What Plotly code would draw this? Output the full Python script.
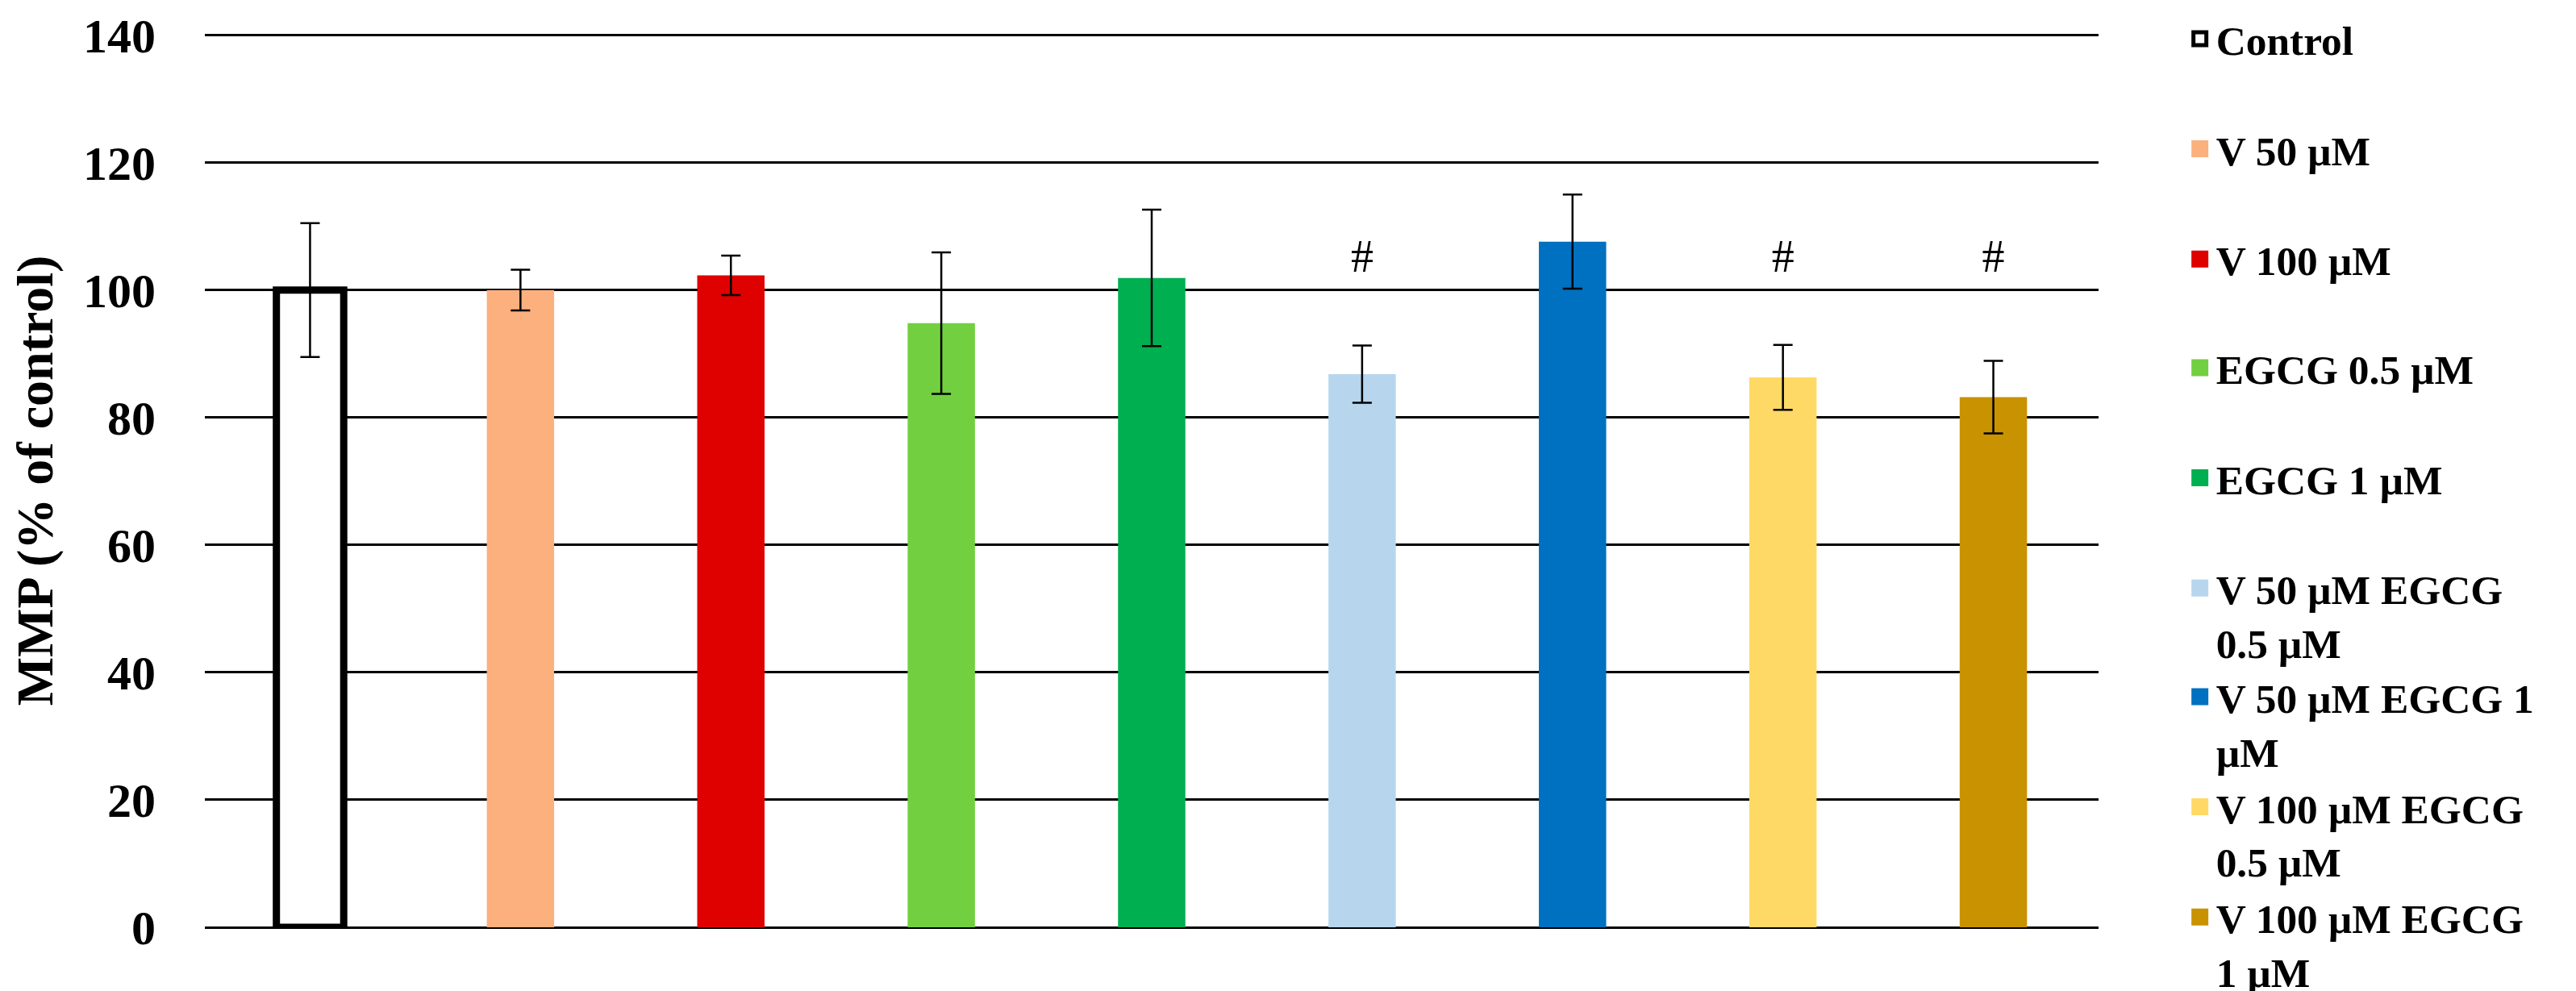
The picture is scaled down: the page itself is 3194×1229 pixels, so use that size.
import plotly.graph_objects as go

# ---- data ----
categories = ["Control", "V 50 µM", "V 100 µM", "EGCG 0.5 µM", "EGCG 1 µM",
              "V 50 µM EGCG 0.5 µM", "V 50 µM EGCG 1 µM",
              "V 100 µM EGCG 0.5 µM", "V 100 µM EGCG 1 µM"]
legend_labels = ["Control", "V 50 µM", "V 100 µM", "EGCG 0.5 µM", "EGCG 1 µM",
                 "V 50 µM EGCG<br>0.5 µM", "V 50 µM EGCG 1<br>µM",
                 "V 100 µM EGCG<br>0.5 µM", "V 100 µM EGCG<br>1 µM"]
mmp_values = [100.0, 100.0, 102.3, 94.8, 101.9, 86.8, 107.6, 86.3, 83.2]
mmp_errors = [10.5, 3.2, 3.1, 11.1, 10.7, 4.5, 7.4, 5.1, 5.7]
significance = ["", "", "", "", "", "#", "", "#", "#"]
sig_level = 104.6
y_ticks = [0, 20, 40, 60, 80, 100, 120, 140]

colors = ["#FFFFFF", "#FBB07E", "#DF0000", "#72D040", "#00AF50",
          "#B7D6EE", "#0070C0", "#FFD966", "#C99200"]
outline_colors = ["#000000", "#FBB07E", "#DF0000", "#72D040", "#00AF50",
                  "#B7D6EE", "#0070C0", "#FFD966", "#C99200"]
outline_widths = [9, 0, 0, 0, 0, 0, 0, 0, 0]

FONT = "Times New Roman, Liberation Serif, serif"
LEGEND_FONT_SIZE = 51.4
LEGEND_SLOT = 136.0          # height of one (two-line) legend entry, px
ITEMS_PER_LEGEND = 3
legend_ids = ["legend", "legend2", "legend3"]

fig = go.Figure()
for i, cat in enumerate(categories):
    fig.add_trace(go.Bar(
        x=[cat], y=[mmp_values[i]], name=cat, showlegend=False,
        width=0.32,
        marker=dict(color=colors[i], line=dict(color="black", width=outline_widths[i])),
        error_y=dict(type="data", array=[mmp_errors[i]], visible=True,
                     color="black", thickness=2.5, width=12),
    ))

# legend entries (square swatches), split into stacked legends
for i, cat in enumerate(categories):
    label = legend_labels[i]
    if "<br>" not in label:
        label = label + "<br>\u00a0"
    fig.add_trace(go.Scatter(
        x=[None], y=[None], mode="markers", name=label,
        marker=dict(symbol="square", size=16, color=colors[i],
                    line=dict(color=outline_colors[i], width=5)),
        showlegend=True,
        legend=legend_ids[i // ITEMS_PER_LEGEND],
        hoverinfo="skip",
    ))

sig_x = [c for c, s in zip(categories, significance) if s]
sig_t = [s for s in significance if s]
fig.add_trace(go.Scatter(
    x=sig_x, y=[sig_level] * len(sig_x), mode="text", text=sig_t,
    textfont=dict(family=FONT, size=56, color="black"),
    showlegend=False, hoverinfo="skip",
))

H = 1229
legend_common = dict(
    xref="paper", x=1.045, xanchor="left", yref="container", yanchor="top",
    font=dict(family=FONT, size=LEGEND_FONT_SIZE, color="black", weight="bold"),
    valign="top", tracegroupgap=0, traceorder="normal",
    bgcolor="rgba(0,0,0,0)",
)
legends = {lid: dict(y=1.0 - k * ITEMS_PER_LEGEND * LEGEND_SLOT / H, **legend_common)
           for k, lid in enumerate(legend_ids)}

fig.update_layout(
    width=3194, height=H,
    margin=dict(l=246, r=600, t=34, b=87, autoexpand=False),
    paper_bgcolor="white", plot_bgcolor="white",
    barmode="overlay",
    font=dict(family=FONT, color="black"),
    showlegend=True,
    **legends,
)
fig.update_xaxes(
    type="category", categoryorder="array", categoryarray=categories,
    range=[-0.5, len(categories) - 0.5],
    showticklabels=False, showgrid=False, showline=False, ticks="", zeroline=False,
)
fig.update_yaxes(
    range=[0, 140.2], tickvals=y_ticks, ticktext=[str(v) for v in y_ticks],
    showgrid=True, gridcolor="black", gridwidth=2.5,
    zeroline=True, zerolinecolor="black", zerolinewidth=2.5,
    showline=False, ticks="",
    tickfont=dict(family=FONT, size=60, color="black", weight="bold"),
    ticklabelstandoff=60,
    title=dict(text="MMP (% of control)", standoff=34,
               font=dict(family=FONT, size=64, color="black", weight="bold")),
)

fig.write_html("out.html")
